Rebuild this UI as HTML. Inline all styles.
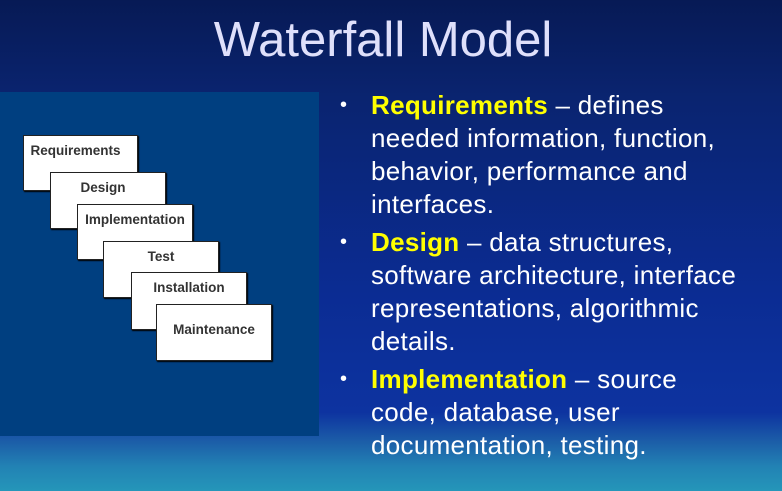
<!DOCTYPE html>
<html><head><style>
*{margin:0;padding:0}
body{width:782px;height:491px;overflow:hidden;position:relative;font-family:"Liberation Sans",Arial,sans-serif;
background:linear-gradient(180deg,#071a55 0%,#0a2470 20%,#0b2c93 60%,#0d33a0 84%,#1c5ea8 90%,#2282b4 95%,#2596b9 100%);}
.title{position:absolute;top:12px;left:-8px;width:782px;text-align:center;font-size:49px;color:#dfe0fb;}
.panel{position:absolute;left:0;top:92px;width:319px;height:344px;background:#003f80;}
.b{position:absolute;background:#fff;border:1px solid #222;box-shadow:1px 1px 1px #000;font-size:13.5px;font-weight:bold;color:#333;text-align:center;box-sizing:border-box;padding-top:7px;}
ul{position:absolute;left:344px;top:89px;list-style:none;color:#fff;font-size:26px;letter-spacing:0.3px;line-height:33px;width:440px;white-space:nowrap}
li{position:relative;padding-left:27px;margin-bottom:5px}
li:before{content:"•";position:absolute;left:-4px;font-size:20px}
b{color:#ffff00}
</style></head><body>
<div class="title">Waterfall Model</div>
<div class="panel"></div>
<div class="b" style="left:23px;top:135px;width:115px;height:56px;padding-right:10px">Requirements</div>
<div class="b" style="left:50px;top:172px;width:116px;height:57px;padding-right:10px">Design</div>
<div class="b" style="left:77px;top:204px;width:116px;height:56px">Implementation</div>
<div class="b" style="left:103px;top:241px;width:116px;height:57px">Test</div>
<div class="b" style="left:131px;top:272px;width:116px;height:58px">Installation</div>
<div class="b" style="left:156px;top:304px;width:116px;height:57px;padding-top:17px">Maintenance</div>
<ul>
<li><b>Requirements</b> – defines<br>needed information, function,<br>behavior, performance and<br>interfaces.</li>
<li><b>Design</b> – data structures,<br>software architecture, interface<br>representations, algorithmic<br>details.</li>
<li><b>Implementation</b> – source<br>code, database, user<br>documentation, testing.</li>
</ul>
</body></html>
